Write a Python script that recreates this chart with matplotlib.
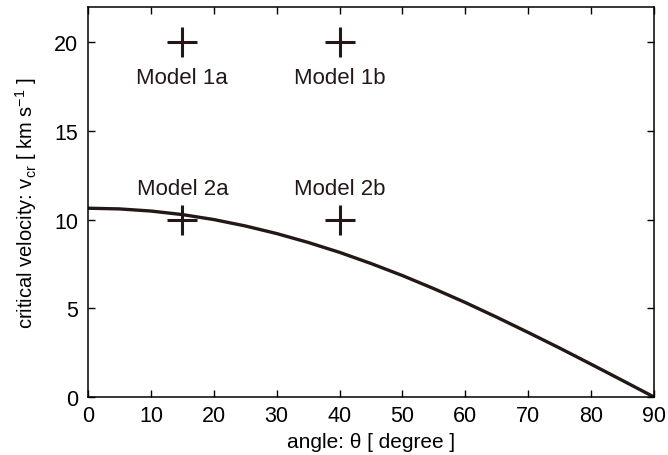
import numpy as np
import matplotlib
matplotlib.use("Agg")
import matplotlib.pyplot as plt

plt.rcParams['font.family'] = ['Liberation Sans', 'DejaVu Sans']
plt.rcParams['mathtext.fontset'] = 'custom'
plt.rcParams['mathtext.rm'] = 'Liberation Sans'
plt.rcParams['mathtext.it'] = 'Liberation Sans'

# critical velocity curve
angle = [0, 5, 10, 15, 20, 25, 30, 35, 40, 45, 50, 55, 60, 65, 70, 75, 80, 85, 90]
v_cr = [10.65, 10.61, 10.49, 10.29, 10.01, 9.65, 9.22, 8.72, 8.16, 7.53,
        6.85, 6.11, 5.33, 4.50, 3.64, 2.76, 1.85, 0.93, 0.0]

# model points
model_names = ['Model 1a', 'Model 1b', 'Model 2a', 'Model 2b']
model_angle = [15, 40, 15, 40]
model_v = [20, 20, 10, 10]
label_offset = [-2.0, -2.0, 1.75, 1.75]

col = '#231815'

fig = plt.figure(figsize=(6.68, 4.56), dpi=100)
ax = fig.add_axes([88/668, 1-398/456, (654-88)/668, (398-8)/456])

ax.plot(angle, v_cr, color=col, lw=2.4)
ax.plot(model_angle, model_v, '+', color=col, ms=22, mew=2.2, ls='none')
for name, x, y, dy in zip(model_names, model_angle, model_v, label_offset):
    ax.text(x, y + dy, name, ha='center', va='center', fontsize=16, color=col)

ax.set_xlim(0, 90)
ax.set_ylim(0, 22)
ax.set_xticks(np.arange(0, 91, 10))
ax.set_yticks([0, 5, 10, 15, 20])
ax.tick_params(direction='in', top=True, right=True, labelsize=15.5, length=5, width=1)
ax.tick_params(axis='x', pad=6)
ax.tick_params(axis='y', pad=7)
for s in ax.spines.values():
    s.set_linewidth(1.1)

ax.set_xlabel('angle: θ [ degree ]', fontsize=15, labelpad=4)
ax.set_ylabel('critical velocity: v$_\\mathrm{cr}$ [ km s$^{-1}$ ]', fontsize=14.5, labelpad=11)

fig.savefig('out.png', dpi=100)
